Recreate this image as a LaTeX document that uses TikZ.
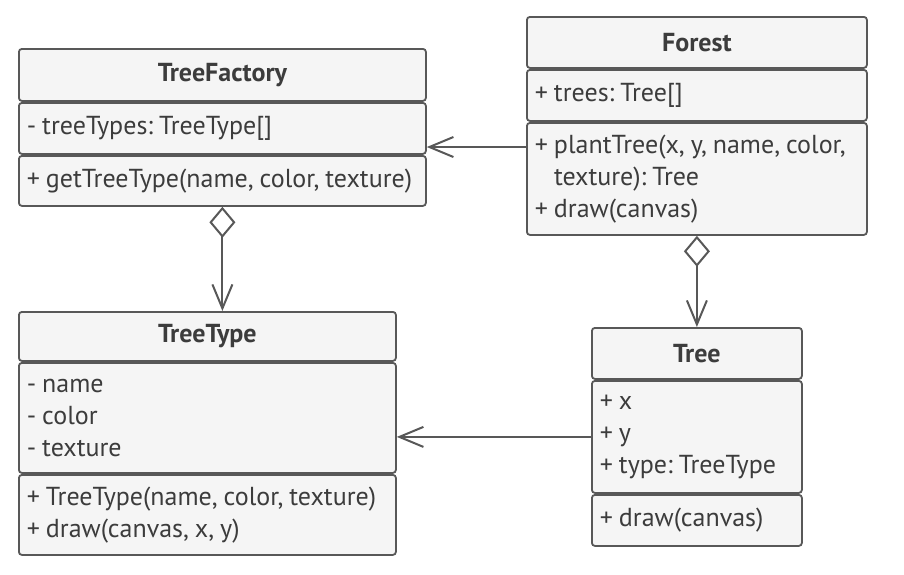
\documentclass[tikz,border=0pt]{standalone}
\usepackage{fontspec}
\setmainfont{PT Sans}
\usetikzlibrary{arrows.meta}

\definecolor{umlline}{RGB}{88,88,88}
\definecolor{umlfill}{RGB}{245,245,245}
\definecolor{umltext}{RGB}{60,60,60}

\tikzset{
  compart/.style={draw=umlline, fill=umlfill, line width=1.8pt, rounded corners=3pt,
    anchor=north west, inner xsep=8pt, inner ysep=0pt, text=umltext,
    font=\fontsize{26}{32}\selectfont,
    execute at begin node={\spaceskip=0.23em\xspaceskip=0.23em\hyphenpenalty=10000\relax}},
  head/.style={compart, font=\fontsize{26}{32}\selectfont\bfseries, align=center},
  body/.style={compart, align=left},
  assoc/.style={draw=umlline, line width=2pt, -{Straight Barb[length=24pt,width=20pt,line width=2pt]}},
  agg/.style={assoc, {Diamond[open,fill=white,length=31pt,width=26pt,line width=2pt]}-{Straight Barb[length=24pt,width=20pt,line width=2pt]}}
}

\begin{document}
\begin{tikzpicture}[x=1pt,y=-1pt]
  \useasboundingbox (0,0) rectangle (904,574);

  % TreeFactory
  \node[head, text width=391pt, minimum height=52pt] (tfH) at (18,48) {TreeFactory};
  \node[body, text width=391pt, minimum height=51pt] (tfA) at (18,102) {- treeTypes: TreeType[]};
  \node[body, text width=391pt, minimum height=50pt] (tfM) at (18,155) {+ getTreeType(name, color, texture)};

  % Forest
  \node[head, text width=324pt, minimum height=51pt] (fH) at (526,16) {Forest};
  \node[body, text width=324pt, minimum height=51pt] (fA) at (526,69) {+ trees: Tree[]};
  \node[body, text width=324pt, minimum height=112pt] (fM) at (526,122)
    {+ plantTree(x, y, name, color,\\ \phantom{+} texture): Tree\\ + draw(canvas)};

  % TreeType
  \node[head, text width=361pt, minimum height=49pt] (ttH) at (18,311) {TreeType};
  \node[body, text width=361pt, minimum height=110pt] (ttA) at (18,362) {- name\\ - color\\ - texture};
  \node[body, text width=361pt, minimum height=80pt] (ttM) at (18,474)
    {+ TreeType(name, color, texture)\\ + draw(canvas, x, y)};

  % Tree
  \node[head, text width=194pt, minimum height=51pt] (trH) at (591,327) {Tree};
  \node[body, text width=194pt, minimum height=112pt] (trA) at (591,380) {+ x\\ + y\\ + type: TreeType};
  \node[body, text width=194pt, minimum height=51pt] (trM) at (591,494) {+ draw(canvas)};

  % relations
  \draw[assoc] ([yshift=-25pt]fM.north west) -- ([yshift=-25pt]fM.north west -| tfA.east);
  \draw[agg] (tfM.south) -- (tfM.south |- ttH.north);
  \draw[agg] (fM.south) -- (trH.north);
  \draw[assoc] (trA.west) -- (trA.west -| ttA.east);
\end{tikzpicture}
\end{document}
